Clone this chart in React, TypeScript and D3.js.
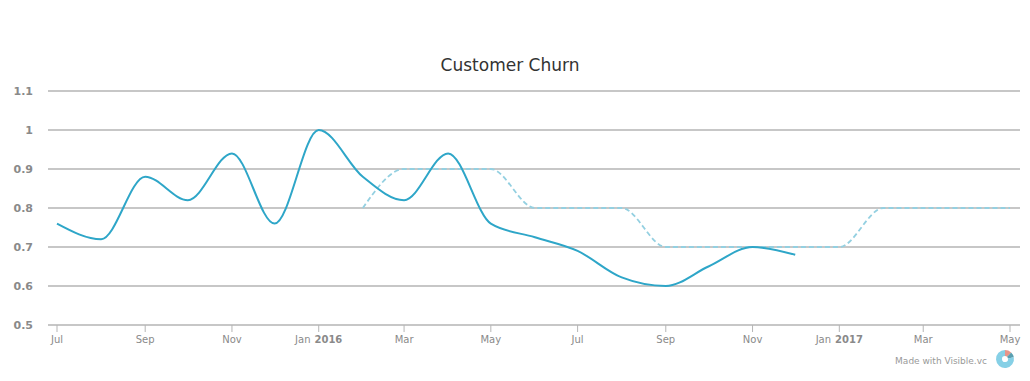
import React from "react";
import * as d3 from "d3";

const W = 1030;
const H = 381;

const actualMonths = ["2015-07","2015-08","2015-09","2015-10","2015-11","2015-12","2016-01","2016-02","2016-03","2016-04","2016-05","2016-06","2016-07","2016-08","2016-09","2016-10","2016-11","2016-12"];
const actualValues = [0.76,0.72,0.88,0.82,0.94,0.76,1.0,0.88,0.82,0.94,0.76,0.725,0.69,0.622,0.60,0.65,0.70,0.68];

const targetMonths = ["2016-02","2016-03","2016-04","2016-05","2016-06","2016-07","2016-08","2016-09","2016-10","2016-11","2016-12","2017-01","2017-02","2017-03","2017-04","2017-05"];
const targetValues = [0.8,0.9,0.9,0.9,0.8,0.8,0.8,0.7,0.7,0.7,0.7,0.7,0.8,0.8,0.8,0.8];

const yTicks = [0.5,0.6,0.7,0.8,0.9,1,1.1];

const parse = d3.utcParse("%Y-%m");
const FONT = "'DejaVu Sans', Verdana, sans-serif";

export default function App() {
  const x = d3.scaleUtc().domain([parse("2015-07")!, parse("2017-05")!]).range([57, 1010]);
  const y = d3.scaleLinear().domain([0.5, 1.1]).range([325, 91]);

  const line = d3.line<[Date, number]>().x(d => x(d[0])).y(d => y(d[1])).curve(d3.curveMonotoneX);
  const actual: [Date, number][] = actualMonths.map((m, i) => [parse(m)!, actualValues[i]]);
  const target: [Date, number][] = targetMonths.map((m, i) => [parse(m)!, targetValues[i]]);

  const ticks = x.ticks(d3.utcMonth.every(2)!);

  const pie = d3.pie<number>().sort(null)([0.12, 0.1, 0.78]);
  const arc = d3.arc<d3.PieArcDatum<number>>().innerRadius(3).outerRadius(9);
  const logoColors = ["#e8958a", "#5a9fb0", "#86d0e6"];

  return (
    <svg width={W} height={H} style={{ display: "block", position: "absolute", left: 0, top: 0 }} fontFamily={FONT}>
      <rect width={W} height={H} fill="#fff" />
      <text x={510} y={71} textAnchor="middle" fontSize={17} fill="#333">Customer Churn</text>
      {yTicks.map(t => (
        <g key={t}>
          <line x1={48} x2={1020} y1={y(t)} y2={y(t)} stroke="#b5b5b5" strokeWidth={1.5} />
          <text x={33} y={y(t) + 4} textAnchor="end" fontSize={11} fontWeight="bold" fill="#8a8a8a">{t}</text>
        </g>
      ))}
      {ticks.map(t => {
        const isJan = t.getUTCMonth() === 0;
        return (
          <g key={t.toISOString()}>
            <line x1={x(t)} x2={x(t)} y1={325} y2={332} stroke="#b5b5b5" strokeWidth={1} />
            <text x={x(t)} y={343} textAnchor="middle" fontSize={10} fill="#8a8a8a">
              {d3.utcFormat("%b")(t)}
              {isJan ? <tspan fontWeight="bold" dx={4}>{t.getUTCFullYear()}</tspan> : null}
            </text>
          </g>
        );
      })}
      <path d={line(target)!} fill="none" stroke="#94d0e1" strokeWidth={1.8} strokeDasharray="5,3" />
      <path d={line(actual)!} fill="none" stroke="#2ea6c8" strokeWidth={2} />
      <text x={987} y={364} textAnchor="end" fontSize={9} fill="#999">Made with Visible.vc</text>
      <g transform="translate(1005,359)">
        {pie.map((p, i) => (
          <path key={i} d={arc(p)!} fill={logoColors[i]} />
        ))}
      </g>
    </svg>
  );
}
